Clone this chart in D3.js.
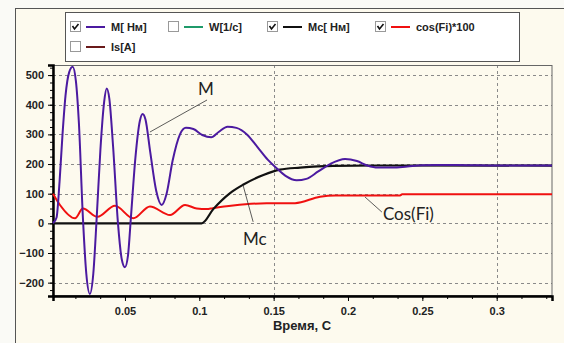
<!DOCTYPE html>
<html>
<head>
	<meta charset="utf-8">
	<script src="https://cdn.jsdelivr.net/npm/d3@7"></script>
	<style>
		body { margin: 0; background: #fafaf6; }
		svg text { font-family: "Liberation Sans", Arial, sans-serif; }
		.tick-label { font-size: 11px; font-weight: bold; fill: #222; }
		.note { font-family: Lato, "Open Sans", sans-serif !important; font-size: 17px; fill: #222; }
	</style>
</head>
<body>
<svg></svg>
<script>
	// time, s  /  value pairs
	var mTime = [0.0016, 0.004, 0.006, 0.008, 0.010, 0.0125, 0.0148, 0.017, 0.019, 0.0217, 0.024, 0.0264, 0.0287, 0.031, 0.0335, 0.036, 0.0377, 0.0395, 0.042, 0.0453, 0.0478, 0.050, 0.052, 0.054, 0.057, 0.0600, 0.0619, 0.0638, 0.067, 0.071, 0.0747, 0.078, 0.082, 0.087, 0.091, 0.096, 0.102, 0.108, 0.113, 0.119, 0.125, 0.132, 0.139, 0.146, 0.152, 0.158, 0.1655, 0.172, 0.180, 0.188, 0.198, 0.206, 0.213, 0.220, 0.230, 0.240, 0.250, 0.260, 0.280, 0.300, 0.3372];
	var mValue = [0, 20, 140, 300, 430, 510, 528, 480, 340, 20, -170, -238, -170, 20, 250, 410, 455, 420, 260, 0, -120, -148, -110, 20, 220, 345, 369, 350, 240, 110, 62, 100, 210, 300, 322, 318, 298, 290, 308, 326, 322, 300, 258, 215, 186, 160, 145, 150, 175, 200, 217, 210, 195, 188, 188, 192, 196, 197, 196, 195, 195];

	var mcTime = [0.0016, 0.1016, 0.1094, 0.1207, 0.1294, 0.1431, 0.1542, 0.1678, 0.190, 0.220, 0.3372];
	var mcValue = [0, 0, 48, 102, 130, 163, 181, 188, 194, 195, 195];

	var cosTime = [0.0016, 0.0063, 0.0164, 0.0217, 0.0315, 0.0433, 0.0556, 0.0668, 0.0803, 0.0904, 0.0983, 0.105, 0.109, 0.1227, 0.1453, 0.1644, 0.1812, 0.1913, 0.235, 0.2364, 0.3372];
	var cosValue = [100, 62, 17, 50, 22, 59, 17, 57, 28, 62, 50, 48, 51, 60, 68, 68, 90, 94, 94, 98, 98];

	var xTicks = [0.05, 0.1, 0.15, 0.2, 0.25, 0.3];
	var yTicks = [-200, -100, 0, 100, 200, 300, 400, 500];
	var xGrid = [0.15, 0.3];

	var legendLabels = ["M[ Нм]", "W[1/c]", "Mc[ Нм]", "cos(Fi)*100", "Is[A]"];
	var legendChecked = [true, false, true, true, false];
	var legendColors = ["#4b1aa0", "#1f9a6a", "#111111", "#f01010", "#6a1a1a"];

	// callouts: text, anchor (t, v), leader line from (t1, v1) to (t2, v2)
	var notes = [
		{ text: "M", t: 0.0992, v: 433, t1: 0.0668, v1: 308, t2: 0.1052, v2: 416 },
		{ text: "Mc", t: 0.1294, v: -73, t1: 0.1294, v1: 129, t2: 0.1362, v2: 5 },
		{ text: "Cos(Fi)", t: 0.2235, v: 11, t1: 0.2114, v1: 89, t2: 0.2228, v2: 38 }
	];

	var width = 564, height = 343;
	var svg = d3.select("svg").attr("width", width).attr("height", height);

	var x = d3.scaleLinear().domain([0.0016, 0.3372]).range([53, 552]);
	var y = d3.scaleLinear().domain([-245, 534]).range([296, 65]);

	// outer panel
	svg.append("rect")
		.attr("x", 15.5).attr("y", 8.5)
		.attr("width", width).attr("height", height)
		.attr("fill", "#fdfaee").attr("stroke", "#555");

	// grid
	svg.selectAll(".hgrid").data(yTicks).enter().append("line")
		.attr("x1", 53).attr("x2", 552)
		.attr("y1", function(d) { return Math.round(y(d)) + 0.5; })
		.attr("y2", function(d) { return Math.round(y(d)) + 0.5; })
		.attr("stroke", "#8a8a8a").attr("stroke-dasharray", "3,3");
	svg.selectAll(".vgrid").data(xGrid).enter().append("line")
		.attr("y1", 65).attr("y2", 296)
		.attr("x1", function(d) { return Math.round(x(d)) + 0.5; })
		.attr("x2", function(d) { return Math.round(x(d)) + 0.5; })
		.attr("stroke", "#8a8a8a").attr("stroke-dasharray", "3,3");

	// plot frame (top / right thin)
	svg.append("rect")
		.attr("x", 53).attr("y", 65.5).attr("width", 499).attr("height", 230)
		.attr("fill", "none").attr("stroke", "#666");

	// axes
	var xMinor = d3.range(1, 21).map(function(i) { return i * 0.05 / 3; });
	var gxMinor = svg.append("g").attr("transform", "translate(0,296)")
		.call(d3.axisBottom(x).tickValues(xMinor).tickSize(3).tickFormat(""));
	var gx = svg.append("g").attr("transform", "translate(0,296)")
		.call(d3.axisBottom(x).tickValues(xTicks).tickSize(5).tickPadding(6)
			.tickFormat(function(d) { return +d.toFixed(2) + ""; }));
	gx.selectAll("text").attr("class", "tick-label");
	gx.selectAll(".domain").attr("stroke", "#000").attr("stroke-width", 2.5);
	gxMinor.selectAll(".domain").remove();
	svg.selectAll("line").filter(function() { return !this.getAttribute("stroke"); }).attr("stroke", "#444");

	var yMinor = d3.range(-225, 534, 25);
	var gyMinor = svg.append("g").attr("transform", "translate(53,0)")
		.call(d3.axisLeft(y).tickValues(yMinor).tickSize(3).tickFormat(""));
	var gy = svg.append("g").attr("transform", "translate(53,0)")
		.call(d3.axisLeft(y).tickValues(yTicks).tickSize(5).tickPadding(4));
	gy.selectAll("text").attr("class", "tick-label");
	gy.selectAll(".domain").attr("stroke", "#000").attr("stroke-width", 2.5);
	gyMinor.selectAll(".domain").remove();

	svg.append("text")
		.attr("x", 302).attr("y", 330)
		.attr("text-anchor", "middle")
		.style("font-size", "13px").style("font-weight", "bold").attr("fill", "#222")
		.text("Время, С");

	// curves
	var line = d3.line()
		.x(function(d) { return x(d[0]); })
		.y(function(d) { return y(d[1]); })
		.curve(d3.curveMonotoneX);

	var plot = svg.append("g");
	plot.append("path").datum(d3.zip(cosTime, cosValue))
		.attr("d", line).attr("fill", "none").attr("stroke", legendColors[3]).attr("stroke-width", 2);
	plot.append("path").datum(d3.zip(mcTime, mcValue))
		.attr("d", line).attr("fill", "none").attr("stroke", legendColors[2]).attr("stroke-width", 2.2);
	plot.append("path").datum(d3.zip(mTime, mValue))
		.attr("d", line).attr("fill", "none").attr("stroke", legendColors[0]).attr("stroke-width", 2);

	// callouts
	var gn = svg.append("g");
	gn.selectAll("line").data(notes).enter().append("line")
		.attr("x1", function(d) { return x(d.t1); })
		.attr("y1", function(d) { return y(d.v1); })
		.attr("x2", function(d) { return x(d.t2); })
		.attr("y2", function(d) { return y(d.v2); })
		.attr("stroke", "#333").attr("stroke-width", 0.8);
	gn.selectAll("text").data(notes).enter().append("text")
		.attr("class", "note")
		.attr("x", function(d) { return x(d.t); })
		.attr("y", function(d) { return y(d.v); })
		.text(function(d) { return d.text; });

	// legend
	var legendX = [70, 168, 267, 375, 70];
	var legendY = [27, 27, 27, 27, 47];
	var lg = svg.append("g");
	lg.append("rect")
		.attr("x", 65.5).attr("y", 12.5).attr("width", 454).attr("height", 49)
		.attr("fill", "#fff").attr("stroke", "#555");
	var item = lg.selectAll(".item").data(legendLabels).enter().append("g")
		.attr("transform", function(d, i) { return "translate(" + legendX[i] + "," + legendY[i] + ")"; });
	item.append("rect")
		.attr("x", 0.5).attr("y", -5.5).attr("width", 10).attr("height", 10)
		.attr("fill", "#fff").attr("stroke", "#999");
	item.filter(function(d, i) { return legendChecked[i]; }).append("path")
		.attr("d", "M2.5,-1 L4.5,2 L8.5,-3")
		.attr("fill", "none").attr("stroke", "#111").attr("stroke-width", 1.6);
	item.append("line")
		.attr("x1", 16).attr("x2", 35).attr("y1", 0).attr("y2", 0)
		.attr("stroke", function(d, i) { return legendColors[i]; }).attr("stroke-width", 2);
	item.append("text")
		.attr("x", 41).attr("y", 4)
		.style("font-size", "11px").style("font-weight", "bold").attr("fill", "#222")
		.text(function(d) { return d; });
</script>
</body>
</html>
